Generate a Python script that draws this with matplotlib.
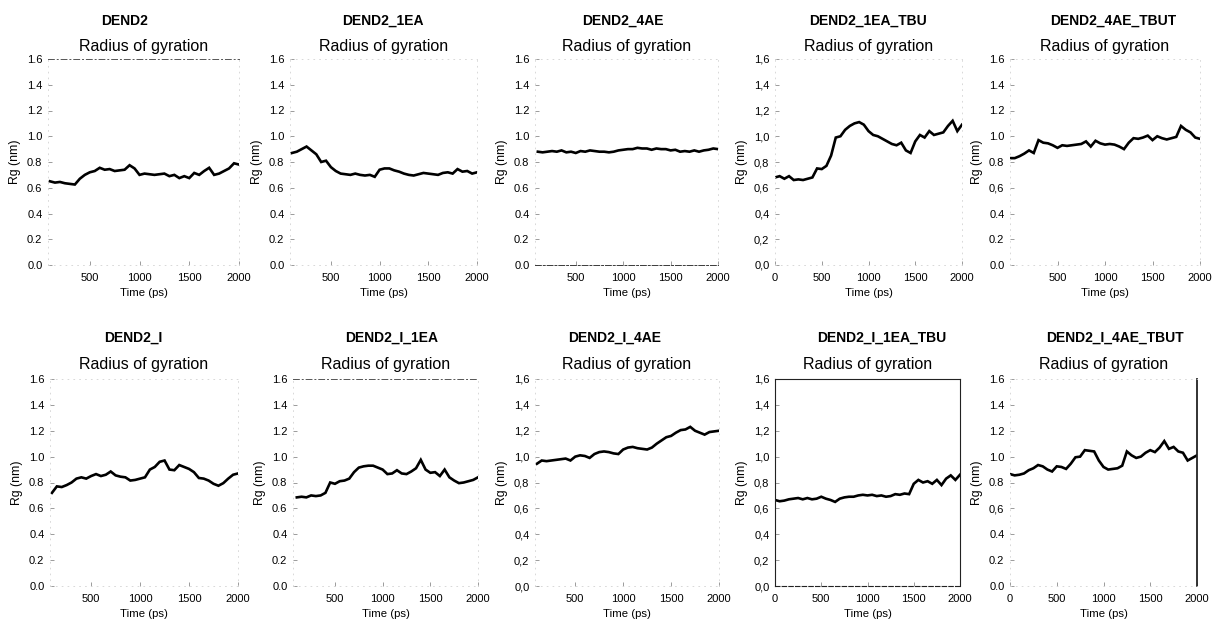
import numpy as np
import matplotlib
matplotlib.use("Agg")
import matplotlib.pyplot as plt

plt.rcParams['font.family'] = ['Liberation Sans', 'DejaVu Sans']

W, H = 1213, 619

# ---- data -------------------------------------------------------------
names = ["DEND2", "DEND2_1EA", "DEND2_4AE", "DEND2_1EA_TBU", "DEND2_4AE_TBUT",
         "DEND2_I", "DEND2_I_1EA", "DEND2_I_4AE", "DEND2_I_1EA_TBU", "DEND2_I_4AE_TBUT"]

time_from_100 = np.arange(100, 2001, 50)   # ps
time_from_0 = np.arange(0, 2001, 50)       # ps

rg_dend2 = [0.65, 0.64, 0.645, 0.635, 0.63, 0.625, 0.67, 0.70, 0.72, 0.73,
            0.755, 0.74, 0.745, 0.73, 0.735, 0.74, 0.775, 0.75, 0.70, 0.71,
            0.705, 0.70, 0.705, 0.71, 0.69, 0.70, 0.675, 0.69, 0.675, 0.715,
            0.70, 0.73, 0.755, 0.70, 0.71, 0.73, 0.75, 0.79, 0.78]
rg_dend2_1ea = [0.87, 0.88, 0.90, 0.92, 0.89, 0.86, 0.80, 0.81, 0.76, 0.73,
                0.71, 0.705, 0.70, 0.71, 0.70, 0.695, 0.70, 0.685, 0.74, 0.75,
                0.75, 0.735, 0.725, 0.71, 0.70, 0.695, 0.705, 0.715, 0.71, 0.705,
                0.70, 0.715, 0.72, 0.71, 0.745, 0.725, 0.73, 0.71, 0.72]
rg_dend2_4ae = [0.88, 0.875, 0.88, 0.885, 0.88, 0.89, 0.875, 0.88, 0.87, 0.885,
                0.88, 0.89, 0.885, 0.88, 0.88, 0.875, 0.88, 0.89, 0.895, 0.90,
                0.90, 0.91, 0.905, 0.905, 0.895, 0.905, 0.90, 0.90, 0.89, 0.895,
                0.88, 0.885, 0.88, 0.89, 0.88, 0.89, 0.895, 0.905, 0.90]
rg_dend2_1ea_tbu = [0.68, 0.69, 0.67, 0.69, 0.66, 0.665, 0.66, 0.67, 0.68, 0.75,
                    0.745, 0.77, 0.85, 0.99, 1.00, 1.05, 1.08, 1.10, 1.11, 1.09,
                    1.04, 1.01, 1.00, 0.98, 0.96, 0.94, 0.93, 0.95, 0.89, 0.87,
                    0.96, 1.01, 0.99, 1.04, 1.01, 1.02, 1.03, 1.08, 1.12, 1.04,
                    1.09]
rg_dend2_4ae_tbut = [0.83, 0.83, 0.845, 0.865, 0.89, 0.87, 0.97, 0.95, 0.945, 0.93,
                     0.91, 0.93, 0.925, 0.93, 0.935, 0.94, 0.96, 0.92, 0.965, 0.945,
                     0.935, 0.94, 0.935, 0.92, 0.90, 0.95, 0.985, 0.98, 0.99, 1.005,
                     0.97, 1.00, 0.985, 0.975, 0.985, 0.995, 1.08, 1.05, 1.03, 0.99,
                     0.98]
rg_dend2_i = [0.72, 0.77, 0.765, 0.78, 0.80, 0.83, 0.84, 0.83, 0.85, 0.865,
              0.85, 0.86, 0.885, 0.855, 0.845, 0.84, 0.815, 0.82, 0.83, 0.84,
              0.90, 0.92, 0.96, 0.97, 0.90, 0.895, 0.935, 0.92, 0.905, 0.88,
              0.835, 0.83, 0.815, 0.79, 0.775, 0.795, 0.83, 0.86, 0.87]
rg_dend2_i_1ea = [0.685, 0.69, 0.685, 0.70, 0.695, 0.70, 0.72, 0.80, 0.79, 0.81,
                  0.815, 0.83, 0.88, 0.915, 0.925, 0.93, 0.93, 0.915, 0.90, 0.865,
                  0.87, 0.895, 0.87, 0.865, 0.885, 0.91, 0.975, 0.90, 0.875, 0.88,
                  0.85, 0.90, 0.84, 0.815, 0.795, 0.80, 0.81, 0.82, 0.84]
rg_dend2_i_4ae = [0.945, 0.97, 0.965, 0.97, 0.975, 0.98, 0.985, 0.97, 1.00, 1.01,
                  1.005, 0.99, 1.02, 1.035, 1.04, 1.035, 1.025, 1.02, 1.055, 1.07,
                  1.075, 1.065, 1.06, 1.055, 1.07, 1.10, 1.125, 1.15, 1.16, 1.185,
                  1.205, 1.21, 1.23, 1.20, 1.185, 1.17, 1.19, 1.195, 1.20]
rg_dend2_i_1ea_tbu = [0.665, 0.655, 0.66, 0.67, 0.675, 0.68, 0.67, 0.68, 0.67, 0.675,
                      0.69, 0.675, 0.665, 0.65, 0.675, 0.685, 0.69, 0.69, 0.70, 0.705,
                      0.70, 0.705, 0.695, 0.70, 0.69, 0.695, 0.71, 0.705, 0.715, 0.71,
                      0.79, 0.82, 0.80, 0.81, 0.79, 0.82, 0.78, 0.83, 0.855, 0.82,
                      0.86]
rg_dend2_i_4ae_tbut = [0.865, 0.855, 0.86, 0.87, 0.895, 0.91, 0.935, 0.925, 0.90, 0.885,
                       0.925, 0.92, 0.905, 0.945, 0.995, 1.00, 1.05, 1.045, 1.04, 0.97,
                       0.92, 0.90, 0.905, 0.91, 0.93, 1.04, 1.01, 0.99, 1.00, 1.03,
                       1.05, 1.035, 1.07, 1.12, 1.06, 1.075, 1.04, 1.03, 0.97, 0.99,
                       1.01]

series = [rg_dend2, rg_dend2_1ea, rg_dend2_4ae, rg_dend2_1ea_tbu, rg_dend2_4ae_tbut,
          rg_dend2_i, rg_dend2_i_1ea, rg_dend2_i_4ae, rg_dend2_i_1ea_tbu, rg_dend2_i_4ae_tbut]
times = [time_from_100, time_from_100, time_from_100, time_from_0, time_from_0,
         time_from_100, time_from_100, time_from_100, time_from_0, time_from_0]

rg_ticks = [0.0, 0.2, 0.4, 0.6, 0.8, 1.0, 1.2, 1.4, 1.6]
labels_dot = ["0.0", "0.2", "0.4", "0.6", "0.8", "1.0", "1.2", "1.4", "1.6"]
labels_comma = ["0,0", "0,2", "0,4", "0,6", "0,8", "1,0", "1,2", "1,4", "1,6"]
labels_mixed = ["0.0", "0.2", "0.4", "0,6", "0.8", "1.0", "1.2", "1.4", "1.6"]
ytick_labels = [labels_dot, labels_dot, labels_dot, labels_comma, labels_mixed,
                labels_dot, labels_dot, labels_comma, labels_comma, labels_mixed]

time_ticks_no_zero = [500, 1000, 1500, 2000]
time_ticks_zero = [0, 500, 1000, 1500, 2000]
xticks = [time_ticks_no_zero, time_ticks_no_zero, time_ticks_no_zero, time_ticks_zero,
          time_ticks_no_zero, time_ticks_no_zero, time_ticks_no_zero, time_ticks_no_zero,
          time_ticks_zero, time_ticks_zero]

# ---- layout (pixels) --------------------------------------------------
# left, right, top, bottom of each plotting area, and the start of its time axis
frames = [(48, 239, 59, 265, 80), (290, 477, 59, 265, 80), (535, 718, 59, 265, 70),
          (775, 962, 59, 265, 0), (1010, 1200, 59, 265, 0),
          (50, 238, 379, 586, 80), (293, 478, 379, 586, 60), (535, 719, 379, 586, 80),
          (775, 960, 379, 586, 0), (1010, 1197, 379, 586, 0)]
title_x = [125, 383, 623, 868, 1113, 133, 392, 615, 882, 1115]
title_y = {59: 21, 379: 338}
subtitle_y = {59: 46, 379: 364}

fig = plt.figure(figsize=(W / 100, H / 100), dpi=100)
fig.patch.set_facecolor("white")

faint = "#d2d2d2"
dark = "#3a3a3a"

for i in range(10):
    l, r, top, bot, x0 = frames[i]
    w, h = r - l, bot - top
    ax = fig.add_axes([l / W, 1 - bot / H, w / W, h / H])
    ax.plot(times[i], series[i], color="black", lw=1.9, solid_joinstyle="miter")
    ax.set_xlim(x0, 2000)
    ax.set_ylim(0, 1.6)
    ax.set_xticks(xticks[i])
    ax.set_xticklabels([str(v) for v in xticks[i]], fontsize=8)
    ax.set_yticks(rg_ticks)
    ax.set_yticklabels(ytick_labels[i], fontsize=8)
    ax.tick_params(axis="both", direction="in", length=3, width=0.6, color="#8c8c8c")
    ax.tick_params(axis="x", pad=6)
    ax.tick_params(axis="y", pad=4)

    for side in ("left", "right", "top", "bottom"):
        ax.spines[side].set_color(faint)
        ax.spines[side].set_linewidth(0.6)
        ax.spines[side].set_linestyle((0, (1, 6)))

    ax.set_xlabel("Time (ps)", fontsize=8.2, va="center")
    ax.xaxis.set_label_coords(0.5, -28 / h)
    ax.set_ylabel("Rg (nm)", fontsize=8.8, va="center")
    ax.yaxis.set_label_coords(-33 / w, 0.5)

    fig.text(title_x[i] / W, 1 - title_y[top] / H, names[i], fontsize=10,
             fontweight="bold", ha="center", va="center")
    fig.text((l + r) / 2 / W, 1 - subtitle_y[top] / H, "Radius of gyration",
             fontsize=11.5, ha="center", va="center")

    if i in (0, 6):
        ax.spines["top"].set_color("#555555")
        ax.spines["top"].set_linestyle((0, (6, 3, 1, 3)))
        ax.spines["top"].set_linewidth(0.7)
    if i == 2:
        ax.spines["bottom"].set_color(dark)
        ax.spines["bottom"].set_linestyle((0, (6, 2, 2, 2)))
        ax.spines["bottom"].set_linewidth(0.7)
    if i == 8:
        for side in ("left", "top", "right"):
            ax.spines[side].set_color("#222222")
            ax.spines[side].set_linestyle("-")
            ax.spines[side].set_linewidth(0.8)
        ax.spines["bottom"].set_color("#222222")
        ax.spines["bottom"].set_linestyle((0, (4, 2)))
        ax.spines["bottom"].set_linewidth(0.8)
    if i == 9:
        ax.spines["right"].set_color("#222222")
        ax.spines["right"].set_linestyle("-")
        ax.spines["right"].set_linewidth(1.3)

fig.savefig("out.png", dpi=100, facecolor="white")
